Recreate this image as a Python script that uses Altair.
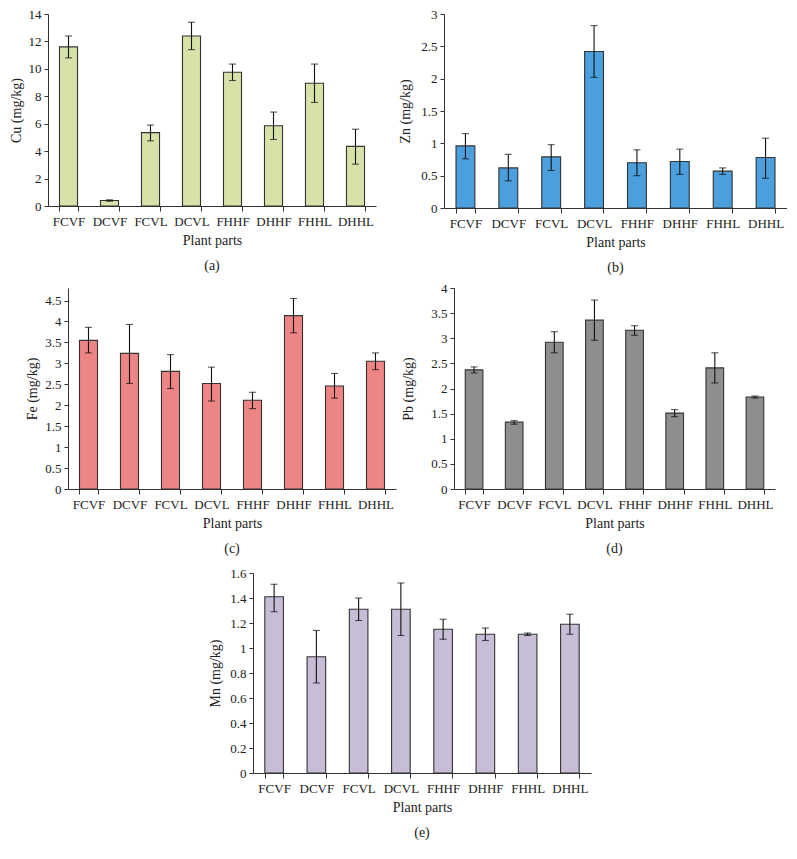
import altair as alt
import pandas as pd

parts = ["FCVF", "DCVF", "FCVL", "DCVL", "FHHF", "DHHF", "FHHL", "DHHL"]

cu_val = [11.6, 0.4, 5.35, 12.4, 9.75, 5.85, 8.95, 4.35]
cu_lo = [10.8, 0.35, 4.75, 11.4, 9.15, 4.85, 7.55, 3.05]
cu_hi = [12.4, 0.45, 5.9, 13.4, 10.35, 6.85, 10.35, 5.6]

zn_val = [0.96, 0.62, 0.79, 2.42, 0.70, 0.72, 0.57, 0.78]
zn_lo = [0.76, 0.42, 0.58, 2.02, 0.50, 0.52, 0.52, 0.46]
zn_hi = [1.15, 0.83, 0.98, 2.82, 0.90, 0.91, 0.62, 1.08]

fe_val = [3.55, 3.24, 2.81, 2.52, 2.12, 4.14, 2.46, 3.05]
fe_lo = [3.25, 2.52, 2.40, 2.10, 1.92, 3.73, 2.17, 2.85]
fe_hi = [3.86, 3.93, 3.21, 2.91, 2.31, 4.55, 2.76, 3.25]

pb_val = [2.37, 1.33, 2.92, 3.36, 3.16, 1.51, 2.41, 1.83]
pb_lo = [2.31, 1.29, 2.71, 2.96, 3.06, 1.44, 2.11, 1.81]
pb_hi = [2.43, 1.36, 3.13, 3.76, 3.25, 1.58, 2.71, 1.85]

mn_val = [1.41, 0.93, 1.31, 1.31, 1.15, 1.11, 1.11, 1.19]
mn_lo = [1.29, 0.72, 1.22, 1.10, 1.07, 1.06, 1.10, 1.11]
mn_hi = [1.51, 1.14, 1.40, 1.52, 1.23, 1.16, 1.12, 1.27]

cu_ticks = [0, 2, 4, 6, 8, 10, 12, 14]
zn_ticks = [0, 0.5, 1, 1.5, 2, 2.5, 3]
fe_ticks = [0, 0.5, 1, 1.5, 2, 2.5, 3, 3.5, 4, 4.5]
pb_ticks = [0, 0.5, 1, 1.5, 2, 2.5, 3, 3.5, 4]
mn_ticks = [0, 0.2, 0.4, 0.6, 0.8, 1, 1.2, 1.4, 1.6]

FONT = "Liberation Serif"


def panel(vals, lo, hi, ytitle, ticks, ymax, color, caption, w, h, tpad=8):
    df = pd.DataFrame({"part": parts, "v": vals, "lo": lo, "hi": hi})
    x = alt.X("part:N", sort=parts, title="Plant parts",
              scale=alt.Scale(paddingInner=0.56, paddingOuter=0.28),
              axis=alt.Axis(labelAngle=0, tickBand="extent", tickSize=5,
                            domainColor="#333", tickColor="#333",
                            labelPadding=4, titlePadding=5))
    yscale = alt.Scale(domain=[0, ymax], nice=False, zero=True)
    yaxis = alt.Axis(values=ticks, format="~g", grid=False, tickSize=4,
                     labelOverlap=False, tickCount=len(ticks),
                     domainColor="#333", tickColor="#333",
                     labelPadding=3, titlePadding=tpad)

    def Y(field):
        return alt.Y(field, type="quantitative", title=ytitle, scale=yscale, axis=yaxis)

    base = alt.Chart(df)
    bars = base.mark_bar(color=color, stroke="#333333", strokeWidth=1.1).encode(x=x, y=Y("v"))
    rule = base.mark_rule(color="#111", strokeWidth=1.1).encode(
        x=alt.X("part:N", sort=parts), y=Y("lo"), y2="hi:Q")
    cap_lo = base.mark_tick(color="#111", size=7, thickness=1.1).encode(
        x=alt.X("part:N", sort=parts), y=Y("lo"))
    cap_hi = base.mark_tick(color="#111", size=7, thickness=1.1).encode(
        x=alt.X("part:N", sort=parts), y=Y("hi"))
    return alt.layer(bars, rule, cap_lo, cap_hi).properties(
        width=w, height=h,
        title=alt.TitleParams(caption, orient="bottom", font=FONT, fontSize=14,
                              fontWeight="normal", color="#222", offset=12))


def spacer(w):
    return alt.Chart(pd.DataFrame({"a": [0]})).mark_point(
        opacity=0, size=0, strokeWidth=0).properties(width=w, height=1)


a = panel(cu_val, cu_lo, cu_hi, "Cu (mg/kg)", cu_ticks, 14, "#d6e2a8", "(a)", 328, 192, 5)
b = panel(zn_val, zn_lo, zn_hi, "Zn (mg/kg)", zn_ticks, 3, "#4b9fdc", "(b)", 343, 194, 8)
c = panel(fe_val, fe_lo, fe_hi, "Fe (mg/kg)", fe_ticks, 4.8, "#ee8585", "(c)", 328, 201, 5)
d = panel(pb_val, pb_lo, pb_hi, "Pb (mg/kg)", pb_ticks, 4, "#8e8e8e", "(d)", 321, 201, 15)
e = panel(mn_val, mn_lo, mn_hi, "Mn (mg/kg)", mn_ticks, 1.6, "#c8bdd7", "(e)", 338, 200, 7)

row1 = alt.hconcat(alt.hconcat(spacer(1), a, spacing=0), b, spacing=22)
row2 = alt.hconcat(alt.hconcat(spacer(17), c, spacing=0), d, spacing=5)
row3 = alt.hconcat(spacer(200), e, spacing=0)

chart = alt.vconcat(alt.vconcat(row1, row2, spacing=7), row3, spacing=11).configure_view(
    strokeOpacity=0
).configure_axis(
    labelFont=FONT, titleFont=FONT, labelFontSize=13, titleFontSize=14,
    titleFontWeight="normal", labelColor="#222", titleColor="#222"
).properties(padding=0, background="white")

chart.save("out.html", embed_options={"renderer": "svg", "actions": False})
